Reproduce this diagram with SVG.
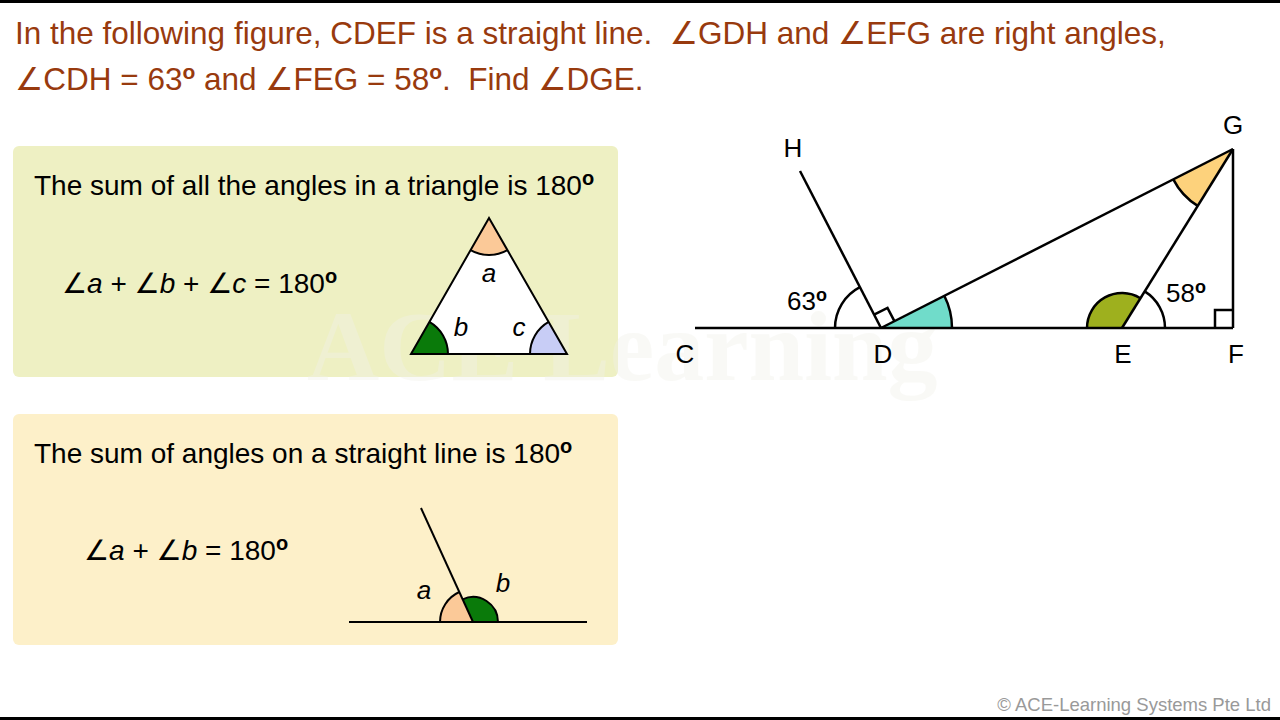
<svg xmlns="http://www.w3.org/2000/svg" width="1280" height="720" viewBox="0 0 1280 720">
<style>
.t{font-family:"Liberation Sans","DejaVu Sans",Arial,sans-serif;white-space:pre}
.title{font-size:31.5px;fill:#983a0e}
.body{font-size:28px;fill:#000}
.lbl{font-size:26px;fill:#000}
.it{font-style:italic}
.deg{font-weight:bold}
.ln{stroke:#000;stroke-width:2.5;fill:none;stroke-linecap:butt}
.thin{stroke:#000;stroke-width:2;fill:none}
</style>
<rect width="1280" height="720" fill="#ffffff"/>
<rect x="0" y="0" width="1280" height="3" fill="#000"/>
<rect x="0" y="717" width="1280" height="3" fill="#000"/>

<g id="question">
<text class="t title" x="15" y="44">In the following figure, CDEF is a straight line.  ∠GDH and ∠EFG are right angles,</text>
<text class="t title" x="15" y="90">∠CDH = 63<tspan class="deg" font-size="21" dy="-11">o</tspan><tspan dy="11"> and ∠FEG = 58</tspan><tspan class="deg" font-size="21" dy="-11">o</tspan><tspan dy="11">.  Find ∠DGE.</tspan></text>
</g>

<g id="panel-triangle">
<rect x="13" y="146" width="605" height="231" rx="6" fill="#eef0c3"/>
<text class="t body" x="34" y="195">The sum of all the angles in a triangle is 180<tspan class="deg" font-size="20" dy="-10">o</tspan></text>
<text class="t body" x="62" y="293">∠<tspan class="it">a</tspan> + ∠<tspan class="it">b</tspan> + ∠<tspan class="it">c</tspan> = 180<tspan class="deg" font-size="20" dy="-10">o</tspan></text>
</g>

<g id="panel-line">
<rect x="13" y="414" width="605" height="231" rx="6" fill="#fdf0c9"/>
<text class="t body" x="34" y="463">The sum of angles on a straight line is 180<tspan class="deg" font-size="20" dy="-10">o</tspan></text>
<text class="t body" x="84" y="560">∠<tspan class="it">a</tspan> + ∠<tspan class="it">b</tspan> = 180<tspan class="deg" font-size="20" dy="-10">o</tspan></text>
</g>

<g id="watermark" opacity="0.4">
<text x="307" y="380" font-family="'Liberation Serif',serif" font-weight="bold" font-size="100" fill="#f2f2ea">ACE Learning</text>
</g>

<g id="triangle">
<polygon points="489,218 411,354 567,354" fill="#fff" stroke="none"/>
<path d="M489,218 L470.6,250.1 A37,37 0 0 0 507.4,250.1 Z" fill="#fbc998"/>
<path class="thin" d="M470.6,250.1 A37,37 0 0 0 507.4,250.1"/>
<path d="M411,354 L448,354 A37,37 0 0 0 429.4,321.9 Z" fill="#0a7a0a"/>
<path class="thin" d="M448,354 A37,37 0 0 0 429.4,321.9"/>
<path d="M567,354 L530,354 A37,37 0 0 1 548.6,321.9 Z" fill="#c8cdf6"/>
<path class="thin" d="M530,354 A37,37 0 0 1 548.6,321.9"/>
<polygon points="489,218 411,354 567,354" class="thin"/>
<text class="t lbl it" x="489" y="282" text-anchor="middle">a</text>
<text class="t lbl it" x="461" y="336" text-anchor="middle">b</text>
<text class="t lbl it" x="519" y="336" text-anchor="middle">c</text>
</g>

<g id="straight-line">
<path d="M473,622 L440,622 A33,33 0 0 1 459.3,592 Z" fill="#fbc998"/>
<path class="thin" d="M440,622 A33,33 0 0 1 459.3,592"/>
<path d="M473,622 L498,622 A25,25 0 0 0 462.6,599.3 Z" fill="#0a7a0a"/>
<path class="thin" d="M498,622 A25,25 0 0 0 462.6,599.3"/>
<line class="thin" x1="349" y1="622" x2="587" y2="622"/>
<line class="thin" x1="421" y1="508" x2="473" y2="622"/>
<text class="t lbl it" x="424" y="599" text-anchor="middle">a</text>
<text class="t lbl it" x="503" y="592" text-anchor="middle">b</text>
</g>

<g id="figure">
<path d="M881,328 L952,328 A71,71 0 0 0 944.3,295.8 Z" fill="#70dcca"/>
<path class="ln" d="M952,328 A71,71 0 0 0 944.3,295.8"/>
<path d="M1122,328 L1087,328 A35,35 0 0 1 1140.4,298.2 Z" fill="#9eb01e"/>
<path class="ln" d="M1087,328 A35,35 0 0 1 1140.4,298.2"/>
<path d="M1233,149 L1173.3,179.4 A67,67 0 0 0 1197.7,205.9 Z" fill="#fdd27c"/>
<path class="ln" d="M1173.3,179.4 A67,67 0 0 0 1197.7,205.9"/>
<path class="ln" d="M835,328 A46,46 0 0 1 859.9,287.2"/>
<path class="ln" d="M1165,328 A43,43 0 0 0 1144.7,291.4"/>
<path class="ln" d="M874.1,314.7 L887.5,307.9 L894.4,321.2" stroke-width="2"/>
<path class="ln" d="M1215,328 L1215,310 L1233,310" stroke-width="2"/>
<line class="ln" x1="695" y1="328" x2="1233" y2="328"/>
<line class="ln" x1="800" y1="171" x2="881" y2="328"/>
<line class="ln" x1="881" y1="328" x2="1233" y2="149"/>
<line class="ln" x1="1122" y1="328" x2="1233" y2="149"/>
<line class="ln" x1="1233" y1="149" x2="1233" y2="328"/>
<text class="t lbl" x="793" y="157" text-anchor="middle">H</text>
<text class="t lbl" x="1233" y="134" text-anchor="middle">G</text>
<text class="t lbl" x="685" y="363" text-anchor="middle">C</text>
<text class="t lbl" x="883" y="363" text-anchor="middle">D</text>
<text class="t lbl" x="1123" y="363" text-anchor="middle">E</text>
<text class="t lbl" x="1236" y="363" text-anchor="middle">F</text>
<text class="t lbl" x="787" y="310">63<tspan class="deg" font-size="18" dy="-9">o</tspan></text>
<text class="t lbl" x="1166" y="302">58<tspan class="deg" font-size="18" dy="-9">o</tspan></text>
</g>

<g id="footer">
<text class="t" x="1271" y="711" text-anchor="end" font-size="18.5" fill="#999">© ACE-Learning Systems Pte Ltd</text>
</g>
</svg>
